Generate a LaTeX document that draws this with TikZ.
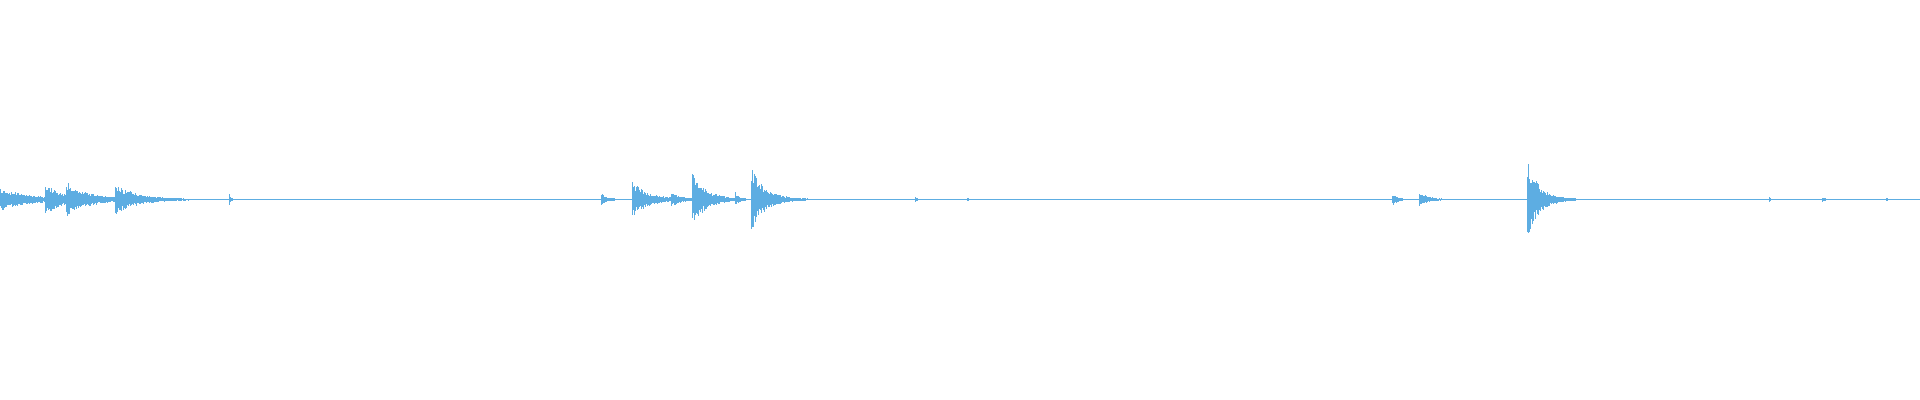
\documentclass[tikz,border=0pt]{standalone}
\usepackage{tikz}
\definecolor{wave}{RGB}{93,173,226}
\newcommand{\burst}[3]{% start, peak, decay
  \pgfmathtruncatemacro{\n}{4*#3}
  \foreach \k in {0,...,\n}{
    \pgfmathsetmacro{\a}{#2*exp(-\k/#3)}
    \pgfmathsetmacro{\u}{\a*(0.5+0.5*rnd)}
    \pgfmathsetmacro{\d}{\a*(0.5+0.5*rnd)}
    \fill[wave] (#1+\k,199.5-\u-0.5) rectangle (#1+\k+1,199.5+\d+0.5);
  }}
\begin{document}
\begin{tikzpicture} [x=0.5pt,y=-0.5pt]
\pgfmathsetseed{7}
\useasboundingbox (0,0) rectangle (1920,400);
% baseline
\coordinate (l) at (0,199.5);
\coordinate (r) at (1920,199.5);
\draw[wave,line width=0.5pt] (l)--(r);
% first group
\burst{0}{11}{30}
\burst{45}{16}{18}
\burst{66}{18}{22}
\burst{115}{15}{22}
\burst{229}{5}{1.5}
% second group
\burst{601}{6}{6}
\burst{632}{18}{16}
\burst{671}{8}{9}
\burst{692}{27}{14}
\burst{735}{7}{4}
\burst{751}{32}{14}
\burst{915}{2.5}{2}
\burst{967}{1.5}{2}
% third group
\burst{1392}{6}{5}
\burst{1419}{7}{9}
\burst{1527}{40}{12}
\burst{1769}{2}{2}
\burst{1822}{2}{3}
\burst{1886}{1.5}{2}
\end{tikzpicture}
\end{document}
